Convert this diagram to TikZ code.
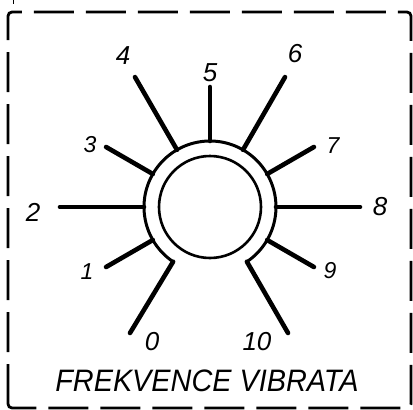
\documentclass[tikz,border=0pt]{standalone}
\usepackage{fontspec}
\setmainfont{Liberation Sans}
\usetikzlibrary{calc}
\begin{document}
\begin{tikzpicture}[x=1pt,y=-1pt,
  tick/.style={line width=4.6pt,line cap=round},
  num/.style={font=\fontsize{26}{26}\selectfont\itshape,inner sep=0pt},
  smallnum/.style={font=\fontsize{23}{23}\selectfont\itshape,inner sep=0pt},
  frame/.style={line width=2.8pt,dash pattern=on 40pt off 12pt,rounded corners=4pt}]
\useasboundingbox (0,0) rectangle (413,410);
% frame
\draw[frame] (8,408) -- (8,12) -- (411,12) -- (411,408) -- cycle;
\draw[line width=1pt] (13,0) -- (13,4);
% centre
\coordinate (C) at (210,207);
% inner circle
\draw[line width=2.6pt] (C) circle[radius=51];
% outer ring with gap at the bottom
\coordinate (r0) at ($(C)+(-236:66)$);
\coordinate (r10) at ($(C)+(-304:66)$);
\draw[line width=3pt] (r0) arc[start angle=-236,end angle=56,radius=66];
% ticks
\foreach \n/\a/\r in {1/210/120,2/180/150,3/150/120,4/120/150,5/90/120,6/60/150,7/30/120,8/0/150,9/-30/120}{
  \coordinate (in\n) at ($(C)+(-\a:66)$);
  \coordinate (out\n) at ($(C)+(-\a:\r)$);
  \draw[tick] (in\n) -- (out\n);
}
\coordinate (out0) at (130,333);
\coordinate (out10) at (288,333);
\draw[tick,line join=miter] (r0) -- (out0);
\draw[tick,line join=miter] (r10) -- (out10);
% labels
\node[num] (l0) at (152,342) {0};
\node[smallnum] (l1) at (87,272) {1};
\node[num] (l2) at (33,212) {2};
\node[smallnum] (l3) at (90,145) {3};
\node[num] (l4) at (123,56) {4};
\node[num] (l5) at (210,73) {5};
\node[num] (l6) at (295,54) {6};
\node[smallnum] (l7) at (333,146) {7};
\node[num] (l8) at (380,207) {8};
\node[smallnum] (l9) at (330,271) {9};
\node[num] (l10) at (257,342) {10};
\node[inner sep=0pt,font=\fontsize{31}{31}\selectfont\itshape,xscale=0.93] (title) at (207,381) {FREKVENCE VIBRATA};
\end{tikzpicture}
\end{document}
